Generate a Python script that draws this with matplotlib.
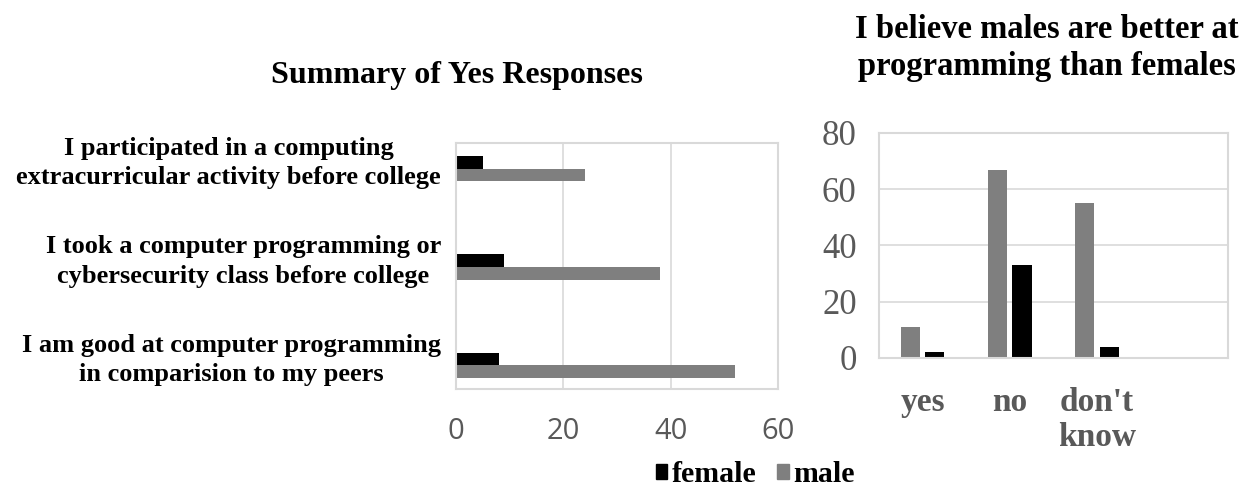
import matplotlib
matplotlib.use("Agg")
import matplotlib.pyplot as plt
import numpy as np
from matplotlib.patches import Patch

# Summary of yes responses (horizontal bars)
statements = [
    "I participated in a computing\nextracurricular activity before college",
    "I took a computer programming or\ncybersecurity class before college",
    "I am good at computer programming\nin comparision to my peers",
]
yes_female = [5, 9, 8]
yes_male = [24, 38, 52]
yes_ticks = [0, 20, 40, 60]

# "Males are better at programming" responses
answers = ["yes", "no", "don't\nknow", ""]
belief_male = [11, 67, 55, 0]
belief_female = [2, 33, 4, 0]
belief_ticks = [0, 20, 40, 60, 80]

BLACK = "#000000"
GREY = "#7f7f7f"
GRID = "#d9d9d9"
TEXT_GREY = "#595959"
SERIF = "Liberation Serif"

fig = plt.figure(figsize=(12.45, 4.86), dpi=100)

# ---- left: horizontal bar chart ----
ax1 = fig.add_axes([0.3663, 0.1996, 0.2586, 0.5062])
ypos = np.arange(len(statements))[::-1].astype(float)
h = 0.13
ax1.barh(ypos + h / 2, yes_female, height=h, color=BLACK)
ax1.barh(ypos - h / 2, yes_male, height=h, color=GREY)
ax1.set_xlim(0, 60)
ax1.set_ylim(-0.24, 2.26)
ax1.set_xticks(yes_ticks)
ax1.set_xticklabels([str(t) for t in yes_ticks], fontsize=21,
                    color=TEXT_GREY, family="Open Sans")
ax1.tick_params(axis="x", length=0, pad=20)
ax1.set_yticks([])
ax1.grid(axis="x", color=GRID, linewidth=1.2)
ax1.set_axisbelow(True)
for sp in ax1.spines.values():
    sp.set_color(GRID)
    sp.set_linewidth(1.5)
for y, label in zip(ypos, statements):
    ax1.text(-0.047, y + 0.055, label, transform=ax1.get_yaxis_transform(),
             ha="right", va="center", multialignment="center",
             fontsize=19, fontweight="bold", family=SERIF,
             linespacing=1.35)

fig.text(0.367, 0.845, "Summary of Yes Responses", ha="center", va="center",
         fontsize=23, fontweight="bold", family=SERIF)

# ---- right: vertical bar chart ----
ax2 = fig.add_axes([0.7060, 0.2634, 0.2803, 0.4630])
xpos = np.arange(len(answers))
w = 0.22
ax2.bar(xpos - 0.14, belief_male, width=w, color=GREY)
ax2.bar(xpos + 0.14, belief_female, width=w, color=BLACK)
ax2.set_xlim(-0.5, 3.5)
ax2.set_ylim(0, 80)
ax2.set_yticks(belief_ticks)
ax2.set_yticklabels([str(t) for t in belief_ticks], fontsize=25,
                    color=TEXT_GREY, family=SERIF)
ax2.set_xticks(xpos)
ax2.set_xticklabels(answers, fontsize=24, fontweight="bold",
                    color=TEXT_GREY, family=SERIF, va="top", linespacing=1.18)
ax2.tick_params(axis="y", length=0, pad=16)
ax2.tick_params(axis="x", length=0, pad=21)
ax2.grid(axis="y", color=GRID, linewidth=1.2)
ax2.set_axisbelow(True)
for sp in ax2.spines.values():
    sp.set_color(GRID)
    sp.set_linewidth(1.5)

fig.text(0.841, 0.901, "I believe males are better at\nprogramming than females",
         ha="center", va="center", fontsize=23.5, fontweight="bold",
         family=SERIF, linespacing=1.25)

# ---- shared legend ----
handles = [Patch(color=BLACK, label="female"), Patch(color=GREY, label="male")]
fig.legend(handles=handles, loc="center", bbox_to_anchor=(0.6065, 0.024),
           ncol=2, frameon=False, handlelength=0.4, handleheight=0.4,
           handletextpad=0.15, columnspacing=0.67, borderpad=0.1,
           prop={"family": SERIF, "weight": "bold", "size": 21.5})

fig.savefig("out.png", dpi=100)
